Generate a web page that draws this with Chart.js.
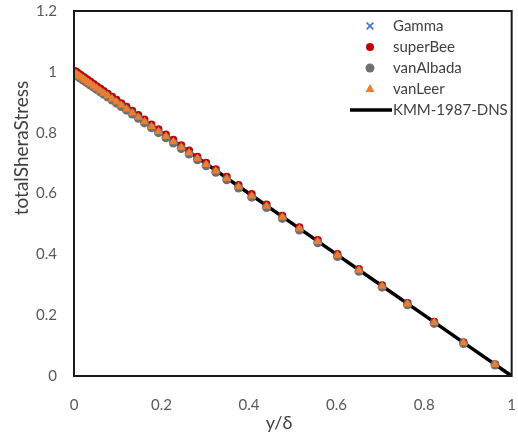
<!DOCTYPE html>
<html lang="en">
<head>
    <meta charset="UTF-8">
    <title>totalSheraStress</title>
    <style>
        body { margin: 0; background: #fff; overflow: hidden; }
    </style>
</head>
<body>
    <canvas id="mychart" width="518" height="435"></canvas>

    <script src="https://cdn.jsdelivr.net/npm/chart.js@4.4.1/dist/chart.umd.min.js"></script>
    <script>
        // y/delta positions (cell centres, shared by the four schemes)
        const yDelta = [0.002, 0.005, 0.008, 0.012, 0.016, 0.021, 0.026, 0.032, 0.038, 0.045,
                        0.052, 0.060, 0.068, 0.077, 0.087, 0.097, 0.108, 0.120, 0.133, 0.147,
                        0.161, 0.177, 0.193, 0.210, 0.227, 0.245, 0.263, 0.282, 0.302, 0.324,
                        0.349, 0.376, 0.406, 0.440, 0.476, 0.515, 0.557, 0.602, 0.651, 0.704,
                        0.762, 0.823, 0.890, 0.962];

        const gamma = [0.998, 0.995, 0.992, 0.988, 0.984, 0.979, 0.974, 0.968, 0.962, 0.955,
                       0.948, 0.940, 0.932, 0.923, 0.913, 0.903, 0.892, 0.880, 0.867, 0.853,
                       0.839, 0.823, 0.807, 0.790, 0.773, 0.755, 0.737, 0.718, 0.698, 0.676,
                       0.651, 0.624, 0.594, 0.560, 0.524, 0.485, 0.443, 0.398, 0.349, 0.296,
                       0.238, 0.177, 0.110, 0.038];

        const superBee = [1.003, 1.000, 0.997, 0.993, 0.989, 0.984, 0.979, 0.973, 0.967, 0.960,
                          0.953, 0.945, 0.937, 0.928, 0.918, 0.908, 0.897, 0.885, 0.872, 0.858,
                          0.843, 0.827, 0.811, 0.794, 0.777, 0.759, 0.741, 0.721, 0.701, 0.680,
                          0.655, 0.628, 0.598, 0.564, 0.527, 0.489, 0.447, 0.401, 0.352, 0.298,
                          0.240, 0.178, 0.111, 0.039];

        const vanAlbada = [0.992, 0.989, 0.986, 0.982, 0.978, 0.973, 0.968, 0.962, 0.956, 0.949,
                           0.942, 0.934, 0.926, 0.917, 0.907, 0.897, 0.886, 0.874, 0.861, 0.847,
                           0.832, 0.816, 0.800, 0.783, 0.766, 0.748, 0.730, 0.711, 0.691, 0.670,
                           0.645, 0.618, 0.588, 0.554, 0.518, 0.480, 0.438, 0.393, 0.344, 0.292,
                           0.234, 0.173, 0.107, 0.036];

        const vanLeer = [0.996, 0.993, 0.990, 0.986, 0.982, 0.977, 0.972, 0.966, 0.960, 0.953,
                         0.946, 0.938, 0.930, 0.921, 0.911, 0.901, 0.890, 0.878, 0.865, 0.851,
                         0.836, 0.820, 0.804, 0.787, 0.770, 0.752, 0.734, 0.715, 0.695, 0.674,
                         0.649, 0.622, 0.592, 0.558, 0.522, 0.484, 0.442, 0.397, 0.348, 0.295,
                         0.237, 0.176, 0.109, 0.038];

        // DNS reference (Kim, Moin & Moser 1987)
        const dnsY = [0, 0.1, 0.2, 0.3, 0.4, 0.5, 0.6, 0.7, 0.8, 0.9, 1.0];
        const dnsStress = [1.0, 0.9, 0.8, 0.7, 0.6, 0.5, 0.4, 0.3, 0.2, 0.1, 0.0];

        const xTicks = [0, 0.2, 0.4, 0.6, 0.8, 1];
        const yTicks = [0, 0.2, 0.4, 0.6, 0.8, 1, 1.2];

        const toPoints = (xs, ys) => xs.map((x, i) => ({ x: x, y: ys[i] }));

        const FONT = 'Lato, "Open Sans", sans-serif';

        function drawMarker(ctx, style, r, x, y) {
            ctx.beginPath();
            if (style === 'crossRot') {
                const d = r * 0.75;
                ctx.moveTo(x - d, y - d); ctx.lineTo(x + d, y + d);
                ctx.moveTo(x - d, y + d); ctx.lineTo(x + d, y - d);
                ctx.stroke();
            } else if (style === 'triangle') {
                ctx.moveTo(x, y - r);
                ctx.lineTo(x + r * 0.9, y + r * 0.6);
                ctx.lineTo(x - r * 0.9, y + r * 0.6);
                ctx.closePath();
                ctx.fill();
            } else {
                ctx.arc(x, y, r, 0, Math.PI * 2);
                ctx.fill();
            }
        }

        // plot frame, axis titles and a legend placed inside the plot
        const extras = {
            id: 'extras',
            afterDraw(chart) {
                const ctx = chart.ctx;
                const a = chart.chartArea;

                // frame round the plot area
                ctx.save();
                ctx.strokeStyle = '#1a1a1a';
                ctx.lineWidth = 2;
                ctx.strokeRect(a.left, a.top, a.width, a.height);
                ctx.restore();

                // axis titles
                ctx.save();
                ctx.fillStyle = '#404040';
                ctx.textAlign = 'center';
                ctx.textBaseline = 'middle';
                ctx.font = '18px ' + FONT;
                ctx.fillText('y/δ', 279, 423);
                ctx.translate(22, 148);
                ctx.rotate(-Math.PI / 2);
                ctx.font = '19px ' + FONT;
                ctx.fillText('totalSheraStress', 0, 0);
                ctx.restore();

                // legend
                const mx = 370, tx = 393;
                chart.data.datasets.forEach((ds, i) => {
                    const y = 26 + i * 21;
                    ctx.save();
                    if (ds.showLine) {
                        ctx.strokeStyle = ds.borderColor;
                        ctx.lineWidth = 3.5;
                        ctx.beginPath();
                        ctx.moveTo(350, y);
                        ctx.lineTo(tx - 1, y);
                        ctx.stroke();
                    } else {
                        ctx.fillStyle = ds.pointBackgroundColor;
                        ctx.strokeStyle = ds.pointBorderColor;
                        ctx.lineWidth = ds.pointBorderWidth;
                        drawMarker(ctx, ds.pointStyle, ds.pointRadius, mx, y);
                    }
                    ctx.font = '15px ' + FONT;
                    ctx.textBaseline = 'middle';
                    ctx.fillStyle = '#404040';
                    ctx.fillText(ds.label, tx, y);
                    ctx.restore();
                });
            }
        };

        const mychart = document.getElementById('mychart');

        // invisible tick marks push the labels away from the frame
        const hiddenGrid = (len) => ({
            display: true,
            drawOnChartArea: false,
            drawTicks: true,
            tickLength: len,
            color: 'rgba(0,0,0,0)',
        });

        new Chart(mychart, {
            type: 'scatter',
            data: {
                datasets: [
                    {
                        label: 'Gamma',
                        data: toPoints(yDelta, gamma),
                        pointStyle: 'crossRot',
                        pointRadius: 4.5,
                        pointBorderWidth: 1.6,
                        pointBorderColor: '#4472C4',
                        pointBackgroundColor: '#4472C4',
                        order: 4,
                    },
                    {
                        label: 'superBee',
                        data: toPoints(yDelta, superBee),
                        pointStyle: 'circle',
                        pointRadius: 4,
                        pointBorderWidth: 0,
                        pointBorderColor: '#C00000',
                        pointBackgroundColor: '#C00000',
                        order: 3,
                    },
                    {
                        label: 'vanAlbada',
                        data: toPoints(yDelta, vanAlbada),
                        pointStyle: 'circle',
                        pointRadius: 4.5,
                        pointBorderWidth: 0,
                        pointBorderColor: '#707070',
                        pointBackgroundColor: '#707070',
                        order: 2,
                    },
                    {
                        label: 'vanLeer',
                        data: toPoints(yDelta, vanLeer),
                        pointStyle: 'triangle',
                        pointRadius: 5,
                        pointBorderWidth: 0,
                        pointBorderColor: '#ED7D31',
                        pointBackgroundColor: '#ED7D31',
                        order: 1,
                    },
                    {
                        label: 'KMM-1987-DNS',
                        data: toPoints(dnsY, dnsStress),
                        showLine: true,
                        pointRadius: 0,
                        borderColor: '#000000',
                        borderWidth: 3.5,
                        order: 5,
                    },
                ],
            },
            options: {
                responsive: false,
                animation: false,
                layout: { padding: { left: 0, top: 10, right: 5, bottom: 0 } },
                plugins: {
                    legend: { display: false },
                    tooltip: { enabled: false },
                },
                scales: {
                    x: {
                        type: 'linear',
                        min: 0,
                        max: 1,
                        grid: hiddenGrid(18),
                        border: { display: false },
                        afterBuildTicks: (s) => { s.ticks = xTicks.map(v => ({ value: v })); },
                        afterFit: (s) => { s.height = 59; },
                        ticks: {
                            padding: 2,
                            color: '#595959',
                            font: { family: FONT, size: 15 },
                            callback: (v) => String(v),
                        },
                    },
                    y: {
                        type: 'linear',
                        min: 0,
                        max: 1.2,
                        grid: hiddenGrid(15),
                        border: { display: false },
                        afterBuildTicks: (s) => { s.ticks = yTicks.map(v => ({ value: v })); },
                        afterFit: (s) => { s.width = 74; },
                        ticks: {
                            padding: 2,
                            color: '#595959',
                            font: { family: FONT, size: 15 },
                            callback: (v) => String(v),
                        },
                    },
                },
            },
            plugins: [extras],
        });
    </script>
</body>
</html>
